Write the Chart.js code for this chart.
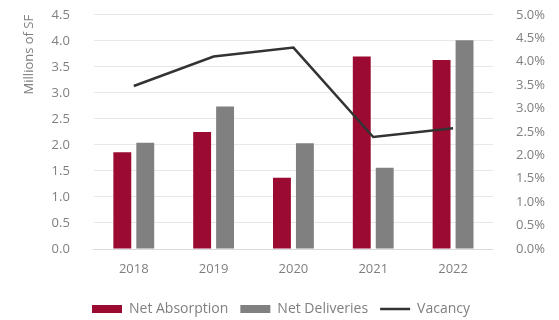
<!DOCTYPE html>
<html>
<head>
<meta charset="utf-8">
<script src="https://cdn.jsdelivr.net/npm/chart.js@4"></script>
<style>
  html, body { margin: 0; padding: 0; background: #fff; }
  #wrap { width: 559px; height: 320px; }
</style>
</head>
<body>
<div id="wrap"><canvas id="chart" width="559" height="320"></canvas></div>
<script>
// chart data
const years = ['2018', '2019', '2020', '2021', '2022'];
const netAbsorption = [1.86, 2.25, 1.37, 3.70, 3.63];
const netDeliveries = [2.04, 2.74, 2.03, 1.56, 4.01];
const vacancy = [3.48, 4.11, 4.30, 2.39, 2.58];
const legendOrder = ['Net Absorption', 'Net Deliveries', 'Vacancy'];

const tickColor = '#7f7f7f';
const font = { family: '"Open Sans", sans-serif', size: 13 };

const ctx = document.getElementById('chart').getContext('2d');
new Chart(ctx, {
    data: {
        labels: years,
        datasets: [
            {
                type: 'line',
                label: 'Vacancy',
                data: vacancy,
                yAxisID: 'y1',
                borderColor: '#333333',
                backgroundColor: '#333333',
                borderWidth: 2.5,
                pointRadius: 0,
                pointStyle: 'line',
                tension: 0,
                order: 0
            },
            {
                type: 'bar',
                label: 'Net Absorption',
                data: netAbsorption,
                yAxisID: 'y',
                backgroundColor: '#9b0a31',
                pointStyle: 'rect',
                categoryPercentage: 0.575,
                barPercentage: 0.78,
                order: 1
            },
            {
                type: 'bar',
                label: 'Net Deliveries',
                data: netDeliveries,
                yAxisID: 'y',
                backgroundColor: '#808080',
                pointStyle: 'rect',
                categoryPercentage: 0.575,
                barPercentage: 0.78,
                order: 2
            }
        ]
    },
    options: {
        responsive: false,
        animation: false,
        layout: { padding: { left: 17, right: 14, top: 0, bottom: -6 } },
        plugins: {
            tooltip: { enabled: false },
            legend: {
                position: 'bottom',
                labels: {
                    usePointStyle: true,
                    pointStyleWidth: 30,
                    boxHeight: 8,
                    padding: 12,
                    color: tickColor,
                    font: { family: font.family, size: 14, lineHeight: 1 },
                    sort: (a, b) => legendOrder.indexOf(a.text) - legendOrder.indexOf(b.text)
                }
            }
        },
        scales: {
            x: {
                grid: { display: false, drawTicks: false },
                border: { color: '#d9d9d9' },
                ticks: { color: tickColor, font: { family: font.family, size: 13, lineHeight: 1 }, padding: 14 }
            },
            y: {
                position: 'left',
                min: 0,
                max: 4.5,
                ticks: {
                    stepSize: 0.5,
                    color: tickColor,
                    font: font,
                    padding: 7,
                    callback: v => v.toFixed(1)
                },
                grid: { color: '#e8e8e8', tickColor: 'rgba(0,0,0,0)', tickLength: 17 },
                border: { display: false },
                title: {
                    display: true,
                    text: 'Millions of SF',
                    align: 'end',
                    color: tickColor,
                    font: { family: font.family, size: 13 },
                    padding: { bottom: 8 }
                }
            },
            y1: {
                position: 'right',
                min: 0,
                max: 5,
                ticks: {
                    stepSize: 0.5,
                    color: tickColor,
                    font: font,
                    padding: 7,
                    crossAlign: 'far',
                    callback: v => v.toFixed(1) + '%'
                },
                grid: { drawOnChartArea: false, color: 'rgba(0,0,0,0)', tickLength: 9 },
                border: { display: false }
            }
        }
    }
});
</script>
</body>
</html>
